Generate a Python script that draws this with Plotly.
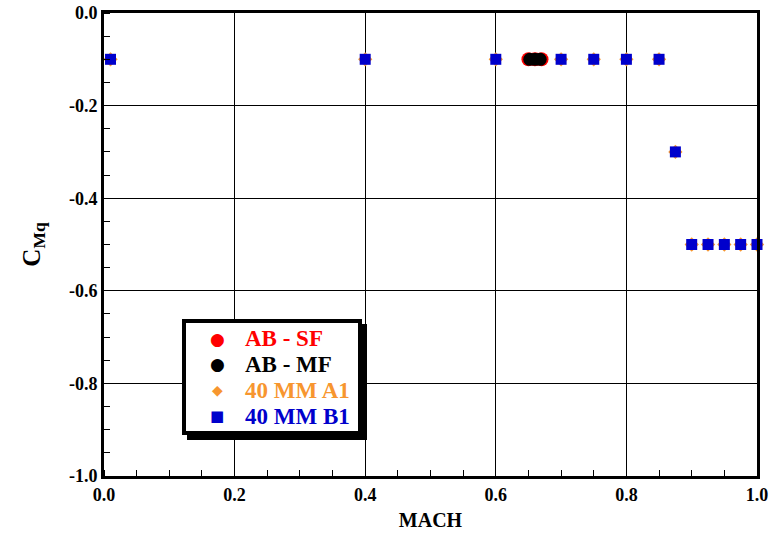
import plotly.graph_objects as go

# Data
sf_mach = [0.650, 0.660, 0.670]
sf_cmq = [-0.1, -0.1, -0.1]
mf_mach = [0.652, 0.660, 0.668]
mf_cmq = [-0.1, -0.1, -0.1]
a1_mach = [0.01, 0.40, 0.60, 0.70, 0.75, 0.80, 0.85, 0.875, 0.90, 0.925, 0.95, 0.975, 1.00]
a1_cmq = [-0.1, -0.1, -0.1, -0.1, -0.1, -0.1, -0.1, -0.3, -0.5, -0.5, -0.5, -0.5, -0.5]
b1_mach = [0.01, 0.40, 0.60, 0.70, 0.75, 0.80, 0.85, 0.875, 0.90, 0.925, 0.95, 0.975, 1.00]
b1_cmq = [-0.1, -0.1, -0.1, -0.1, -0.1, -0.1, -0.1, -0.3, -0.5, -0.5, -0.5, -0.5, -0.5]

series_names = ["AB - SF", "AB - MF", "40 MM A1", "40 MM B1"]
series_colors = ["#ff0000", "#000000", "#f7962f", "#0000cc"]
legend_glyphs = ["\u25cf", "\u25cf", "\u25c6", "\u25a0"]

x_ticks = [0.0, 0.2, 0.4, 0.6, 0.8, 1.0]
x_labels = ["0.0", "0.2", "0.4", "0.6", "0.8", "1.0"]
y_ticks = [0.0, -0.2, -0.4, -0.6, -0.8, -1.0]
y_labels = ["0.0", "-0.2", "-0.4", "-0.6", "-0.8", "-1.0"]

FONT = "Liberation Serif, Times New Roman, serif"

fig = go.Figure()
fig.add_trace(go.Scatter(x=sf_mach, y=sf_cmq, mode="markers", cliponaxis=False,
                         name=series_names[0],
                         marker=dict(symbol="circle", size=14, color=series_colors[0])))
fig.add_trace(go.Scatter(x=mf_mach, y=mf_cmq, mode="markers", cliponaxis=False,
                         name=series_names[1],
                         marker=dict(symbol="circle", size=13, color=series_colors[1])))
fig.add_trace(go.Scatter(x=a1_mach, y=a1_cmq, mode="markers", cliponaxis=False,
                         name=series_names[2],
                         marker=dict(symbol="diamond", size=11, color=series_colors[2])))
fig.add_trace(go.Scatter(x=b1_mach, y=b1_cmq, mode="markers", cliponaxis=False,
                         name=series_names[3],
                         marker=dict(symbol="square", size=11, color=series_colors[3])))

axis_common = dict(
    showline=True, mirror=True, linewidth=3, linecolor="black",
    showgrid=True, gridcolor="black", gridwidth=1,
    zeroline=False, ticks="", automargin=False,
    tickfont=dict(family=FONT, size=18, color="black", weight="bold"),
    minor=dict(dtick=0.05, ticks="inside", ticklen=6, tickcolor="black", tickwidth=1, showgrid=False),
)

fig.update_xaxes(range=[0, 1.0], tickvals=x_ticks, ticktext=x_labels, **axis_common,
                 title=dict(text="MACH", font=dict(family=FONT, size=20, color="black", weight="bold"), standoff=10))
fig.update_yaxes(range=[-1.0, 0], tickvals=y_ticks, ticktext=y_labels, **axis_common,
                 title=dict(text="C<sub>Mq</sub>", font=dict(family=FONT, size=25, color="black", weight="bold"), standoff=22))

# Legend box (drawn manually to match the original spacing)
W, H = 653.0, 463.0  # plot area size in px
def px_x(p):
    return (p - 104) / W
def px_y(p):
    return (476 - p) / H

bx0, bx1, by0, by1 = 182, 362, 319, 435
off = 5
fig.add_shape(type="rect", xref="paper", yref="paper",
              x0=px_x(bx0 + off), x1=px_x(bx1 + off), y0=px_y(by1 + off), y1=px_y(by0 + off),
              fillcolor="black", line=dict(width=0), layer="above")
fig.add_shape(type="rect", xref="paper", yref="paper",
              x0=px_x(bx0 + 2), x1=px_x(bx1 - 2), y0=px_y(by1 - 2), y1=px_y(by0 + 2),
              fillcolor="white", line=dict(color="black", width=4), layer="above")

row_y = [339, 364, 390, 416]
glyph_sizes = [17, 17, 14, 15]
for i, name in enumerate(series_names):
    fig.add_annotation(xref="paper", yref="paper", x=px_x(217), y=px_y(row_y[i]),
                       text=legend_glyphs[i], showarrow=False, xanchor="center", yanchor="middle",
                       font=dict(family="DejaVu Sans", size=glyph_sizes[i], color=series_colors[i]))
    fig.add_annotation(xref="paper", yref="paper", x=px_x(243), y=px_y(row_y[i]),
                       text=name, showarrow=False, xanchor="left", yanchor="middle",
                       font=dict(family=FONT, size=23, color=series_colors[i], weight="bold"))

fig.update_layout(
    width=777, height=540,
    margin=dict(l=104, r=20, t=13, b=64),
    plot_bgcolor="white", paper_bgcolor="white",
    showlegend=False,
)

fig.write_html("out.html")
